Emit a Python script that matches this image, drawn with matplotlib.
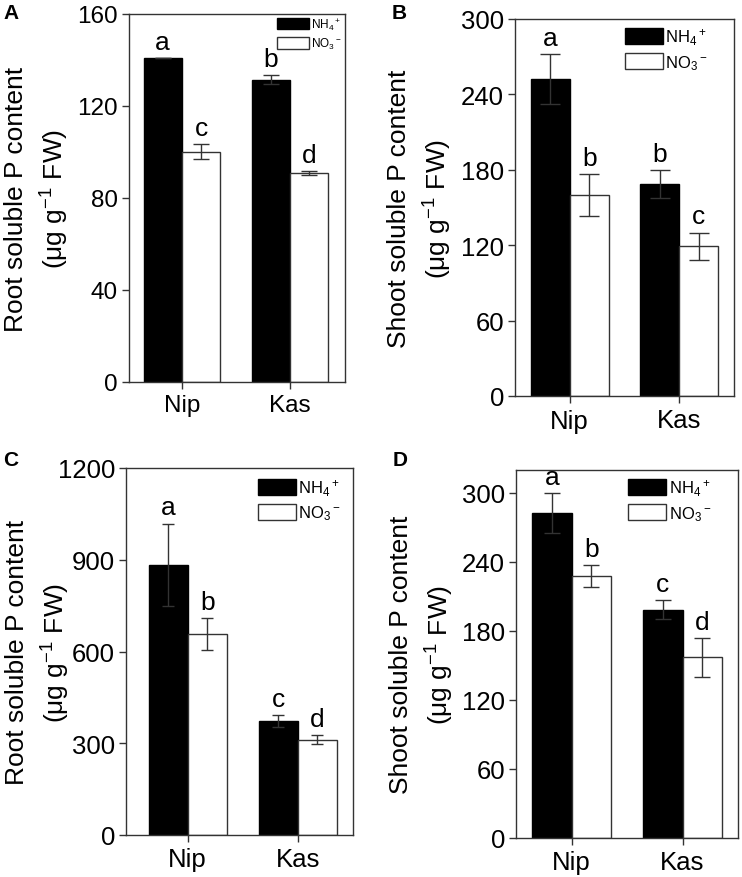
import numpy as np
import matplotlib
matplotlib.use("Agg")
import matplotlib.pyplot as plt
from matplotlib.patches import Patch

plt.rcParams['font.family'] = ['Liberation Sans', 'DejaVu Sans']
plt.rcParams['mathtext.fontset'] = 'custom'
plt.rcParams['mathtext.rm'] = 'Liberation Sans'
plt.rcParams['mathtext.it'] = 'Liberation Sans'
plt.rcParams['mathtext.default'] = 'regular'

# data
genotypes = ['Nip', 'Kas']
series = ['NH$_4$$^+$', 'NO$_3$$^-$']

a_nh4 = [140.7, 131.5]
a_nh4_err = [0.0, 2.0]
a_no3 = [100.2, 90.8]
a_no3_err = [3.3, 1.0]
a_letters = [['a', 'b'], ['c', 'd']]

b_nh4 = [252, 168.6]
b_nh4_err = [20, 11]
b_no3 = [160, 119]
b_no3_err = [16.5, 11]
b_letters = [['a', 'b'], ['b', 'c']]

c_nh4 = [884, 372]
c_nh4_err = [134, 19]
c_no3 = [658, 312]
c_no3_err = [52, 16]
c_letters = [['a', 'c'], ['b', 'd']]

d_nh4 = [282.6, 198.6]
d_nh4_err = [17.4, 8]
d_no3 = [228, 157]
d_no3_err = [9.4, 16.7]
d_letters = [['a', 'c'], ['b', 'd']]

ylabels = ['Root soluble P content\n(μg g$^{-1}$ FW)',
           'Shoot soluble P content\n(μg g$^{-1}$ FW)',
           'Root soluble P content\n(μg g$^{-1}$ FW)',
           'Shoot soluble P content\n(μg g$^{-1}$ FW)']

W, H = 742, 878
fig = plt.figure(figsize=(W / 100, H / 100), dpi=100)

EDGE = '#333333'


def make_panel(box, nh4, nh4_err, no3, no3_err, letters, ylim, yticks, xlim,
               ylabel, label_px, tag, tag_xy, leg_anchor, fs, leg_fs, handle, cap):
    l, t, r, b = box
    ax = fig.add_axes([l / W, (H - b) / H, (r - l) / W, (b - t) / H])
    x = np.arange(len(genotypes))
    w = 0.355
    ax.bar(x - w / 2, nh4, w, color='black', edgecolor='black', linewidth=1, zorder=2)
    ax.bar(x + w / 2, no3, w, color='white', edgecolor=EDGE, linewidth=1, zorder=2)
    ax.errorbar(x - w / 2, nh4, yerr=nh4_err, fmt='none', ecolor=EDGE,
                elinewidth=1, capsize=cap, capthick=1, zorder=3)
    ax.errorbar(x + w / 2, no3, yerr=no3_err, fmt='none', ecolor=EDGE,
                elinewidth=1, capsize=cap, capthick=1, zorder=3)
    for i in range(len(genotypes)):
        ax.annotate(letters[0][i], (x[i] - w / 2, nh4[i] + nh4_err[i]),
                    xytext=(0, 3), textcoords='offset points',
                    ha='center', va='bottom', fontsize=19)
        ax.annotate(letters[1][i], (x[i] + w / 2, no3[i] + no3_err[i]),
                    xytext=(0, 3), textcoords='offset points',
                    ha='center', va='bottom', fontsize=19)
    ax.set_xlim(*xlim)
    ax.set_ylim(*ylim)
    ax.set_yticks(yticks)
    ax.set_xticks(x)
    ax.set_xticklabels(genotypes)
    ax.tick_params(direction='out', length=5, width=1, color=EDGE,
                   labelsize=fs, top=False, right=False)
    ax.tick_params(axis='y', pad=3)
    ax.tick_params(axis='x', pad=4)
    for s in ax.spines.values():
        s.set_color(EDGE)
        s.set_linewidth(1)
    ax.set_ylabel(ylabel, fontsize=19, linespacing=1.42)
    ax.yaxis.set_label_coords((label_px - l) / (r - l), 0.5)
    handles = [Patch(facecolor='black', edgecolor='black'),
               Patch(facecolor='white', edgecolor=EDGE)]
    ax.legend(handles, series, loc='upper left', bbox_to_anchor=leg_anchor,
              frameon=False, fontsize=leg_fs, borderpad=0, borderaxespad=0,
              handlelength=handle[0], handleheight=handle[1],
              handletextpad=0.15, labelspacing=0.35)
    fig.text(tag_xy[0] / W, 1 - tag_xy[1] / H, tag, fontsize=15,
             fontweight='bold', ha='left', va='top')
    return ax


make_panel((129, 15, 345, 383), a_nh4, a_nh4_err, a_no3, a_no3_err, a_letters,
           (0, 160), [0, 40, 80, 120, 160], (-0.49, 1.51), ylabels[0], 71, 'A',
           (3, 4), (0.685, 0.995), 17.5, 8.5, (2.7, 1.1), 5.5)
make_panel((515, 20, 734, 397), b_nh4, b_nh4_err, b_no3, b_no3_err, b_letters,
           (0, 300), [0, 60, 120, 180, 240, 300], (-0.5, 1.5), ylabels[1], 454, 'B',
           (392, 4), (0.5, 0.98), 18.5, 12, (2.3, 1.1), 7)
make_panel((126, 469, 353, 836), c_nh4, c_nh4_err, c_no3, c_no3_err, c_letters,
           (0, 1200), [0, 300, 600, 900, 1200], (-0.56, 1.5), ylabels[2], 72, 'C',
           (3, 451), (0.58, 0.975), 18.5, 12, (2.3, 1.1), 4)
make_panel((516, 471, 738, 839), d_nh4, d_nh4_err, d_no3, d_no3_err, d_letters,
           (0, 320), [0, 60, 120, 180, 240, 300], (-0.5, 1.5), ylabels[3], 456, 'D',
           (393, 451), (0.505, 0.98), 18.5, 12, (2.3, 1.1), 5.5)

fig.savefig('out.png', dpi=100)
